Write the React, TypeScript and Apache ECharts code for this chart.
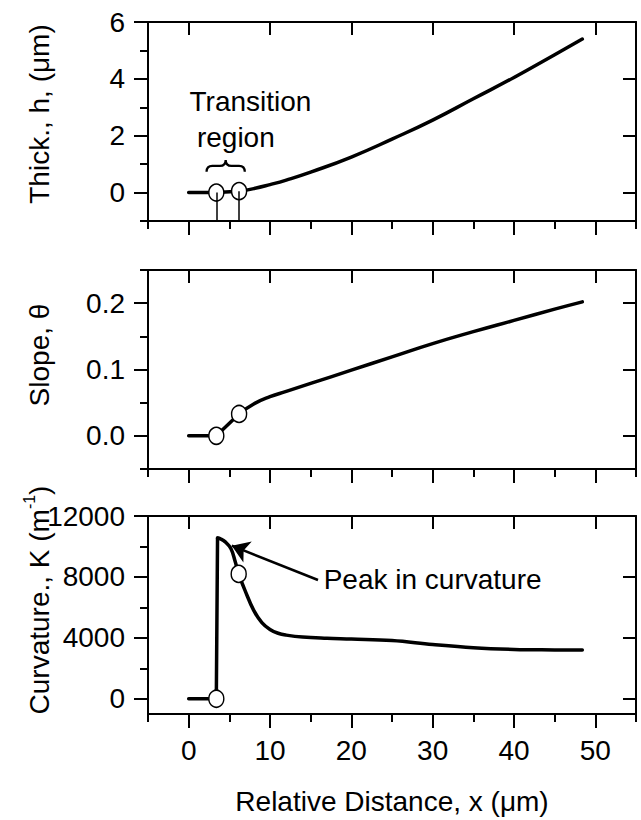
import React, { useEffect, useRef } from "react";
import * as echarts from "echarts";

// ---------- data ----------
const xMajorTicks = [0, 10, 20, 30, 40, 50];
const xMinorTicks = [-5, 5, 15, 25, 35, 45, 55];
const X_MIN = -5;
const X_MAX = 55;
const xAxisName = "Relative Distance, x (\u03bcm)";

// Panel 1: thickness (flat/transition part, then smooth growth)
const thickFlatX = [0, 3.4, 6.2];
const thickFlatH = [0, 0, 0.05];
const thickX = [6.2, 8, 10, 12, 15, 20, 25, 30, 35, 40, 45, 48.4];
const thickH = [0.05, 0.14, 0.28, 0.44, 0.72, 1.25, 1.88, 2.55, 3.3, 4.05, 4.85, 5.4];
const thickMarkX = [3.4, 6.2];
const thickMarkY = [0, 0.05];
const thickMajor = [0, 2, 4, 6];
const thickMinor = [-1, 1, 3, 5];

// Panel 2: slope
const slopeFlatX = [0, 3.4, 6.2];
const slopeFlatT = [0, 0, 0.033];
const slopeX = [6.2, 8, 10, 12, 15, 20, 25, 30, 35, 40, 45, 48.4];
const slopeT = [0.033, 0.048, 0.059, 0.067, 0.079, 0.099, 0.119, 0.139, 0.157, 0.174, 0.191, 0.202];
const slopeMarkX = [3.4, 6.2];
const slopeMarkY = [0, 0.033];
const slopeMajor = [0, 0.1, 0.2];
const slopeMinor = [-0.05, 0.05, 0.15, 0.25];

// Panel 3: curvature
const curvJumpX = [0, 3.4, 3.55];
const curvJumpK = [0, 0, 10550];
const curvX = [3.55, 3.9, 4.5, 5.2, 5.7, 6.15, 6.9, 8, 9, 10, 11, 12, 14, 17, 20, 25, 30, 35, 40, 45, 48.4];
const curvK = [10550, 10500, 10300, 9850, 9050, 8200, 7150, 5800, 5000, 4550, 4300, 4180, 4050, 3970, 3920, 3820, 3560, 3350, 3240, 3210, 3200];
const curvMarkX = [3.4, 6.15];
const curvMarkY = [0, 8200];
const curvMajor = [0, 4000, 8000, 12000];
const curvMinor = [2000, 6000, 10000];

// axis titles (rich text for the superscript)
const yNames = [
  "{a|Thick., h, (\u03bcm)}",
  "{a|Slope, \u03b8}",
  "{a|Curvature., K (m}{s|-1}{a|)}",
];

const annotTransition = "Transition";
const annotRegion = "region";
const annotPeak = "Peak in curvature";

// ---------- style ----------
const FONT = "'Liberation Sans', Arial, Helvetica, sans-serif";
const BLACK = "#000";
const FS_TICK = 28;
const FS = 28;
const LEFT = 148;
const WIDTH = 488;
const GRIDS = [
  { top: 22, height: 199 },
  { top: 270, height: 199 },
  { top: 516, height: 198 },
];
const NAME_X = 37;
const NAME_CY = [114, 355, 600];

const zip = (a: number[], b: number[]) => a.map((v, i) => [v, b[i]]);

function makeXAxes(g: number, showLabels: boolean) {
  const line = { color: BLACK, width: 2 };
  const common = { type: "value", gridIndex: g, min: X_MIN, max: X_MAX, splitLine: { show: false } };
  return [
    {
      ...common,
      position: "bottom",
      axisLine: { show: true, onZero: false, lineStyle: line },
      axisTick: { show: true, inside: false, length: 14, customValues: xMajorTicks, lineStyle: line },
      axisLabel: {
        show: showLabels,
        customValues: xMajorTicks,
        margin: 22,
        color: BLACK,
        fontSize: FS_TICK,
        fontFamily: FONT,
      },
      name: showLabels ? xAxisName : "",
      nameLocation: "middle",
      nameGap: 73,
      nameTextStyle: { color: BLACK, fontSize: FS, fontFamily: FONT },
    },
    {
      ...common,
      position: "bottom",
      axisLine: { show: false, onZero: false },
      axisTick: { show: true, inside: false, length: 8, customValues: xMinorTicks, lineStyle: line },
      axisLabel: { show: false },
    },
    {
      ...common,
      position: "top",
      axisLine: { show: true, onZero: false, lineStyle: line },
      axisTick: { show: true, inside: true, length: 13, customValues: xMajorTicks, lineStyle: line },
      axisLabel: { show: false },
    },
  ];
}

function makeYAxes(
  g: number,
  min: number,
  max: number,
  major: number[],
  minor: number[],
  fmt: (v: number) => string
) {
  const line = { color: BLACK, width: 2 };
  const common = { type: "value", gridIndex: g, min, max, splitLine: { show: false } };
  return [
    {
      ...common,
      position: "left",
      axisLine: { show: true, onZero: false, lineStyle: line },
      axisTick: { show: true, inside: false, length: 14, customValues: major, lineStyle: line },
      axisLabel: {
        show: true,
        customValues: major,
        margin: 23,
        color: BLACK,
        fontSize: FS_TICK,
        fontFamily: FONT,
        formatter: fmt,
      },
    },
    {
      ...common,
      position: "left",
      axisLine: { show: false, onZero: false },
      axisTick: { show: true, inside: false, length: 8, customValues: minor, lineStyle: line },
      axisLabel: { show: false },
    },
    {
      ...common,
      position: "right",
      axisLine: { show: true, onZero: false, lineStyle: line },
      axisTick: { show: true, inside: true, length: 13, customValues: major.filter((v) => v !== max), lineStyle: line },
      axisLabel: { show: false },
    },
  ];
}

function lineSeries(g: number, data: number[][], smooth: number | boolean, extra: any = {}) {
  return {
    type: "line",
    xAxisIndex: 3 * g,
    yAxisIndex: 3 * g,
    data,
    smooth,
    symbol: "none",
    lineStyle: { color: BLACK, width: 3.5, join: "round", cap: "round" },
    z: 2,
    silent: true,
    ...extra,
  };
}

function markerSeries(g: number, data: number[][]) {
  return {
    type: "scatter",
    xAxisIndex: 3 * g,
    yAxisIndex: 3 * g,
    data,
    symbol: "circle",
    symbolSize: [15, 17],
    itemStyle: { color: "#fff", borderColor: BLACK, borderWidth: 1.5, opacity: 1 },
    z: 4,
    silent: true,
  };
}

echarts.graphic.registerShape(
  "brace",
  echarts.graphic.extendPath("M0 12 Q0 6 6 6 L14 6 Q20 6 20 0 Q20 6 26 6 L34 6 Q40 6 40 12", {})
);

export default function App() {
  const ref = useRef<HTMLDivElement>(null);

  useEffect(() => {
    if (!ref.current) return;
    const chart = echarts.init(ref.current, undefined, { renderer: "svg" });

    const option: any = {
      animation: false,
      backgroundColor: "#fff",
      textStyle: { fontFamily: FONT },
      grid: GRIDS.map((gr) => ({ left: LEFT, width: WIDTH, top: gr.top, height: gr.height, containLabel: false })),
      xAxis: [...makeXAxes(0, false), ...makeXAxes(1, false), ...makeXAxes(2, true)],
      yAxis: [
        ...makeYAxes(0, -1, 6, thickMajor, thickMinor, (v) => String(v)),
        ...makeYAxes(1, -0.05, 0.25, slopeMajor, slopeMinor, (v) => v.toFixed(1)),
        ...makeYAxes(2, -1000, 12000, curvMajor, curvMinor, (v) => String(v)),
      ],
      series: [
        lineSeries(0, zip(thickFlatX, thickFlatH), false, {
          markLine: {
            silent: true,
            symbol: ["none", "none"],
            label: { show: false },
            lineStyle: { color: BLACK, width: 1.5, type: "solid" },
            data: thickMarkX.map((x, i) => [{ coord: [x, thickMarkY[i]] }, { coord: [x, -1] }]),
          },
        }),
        lineSeries(0, zip(thickX, thickH), 0.5),
        markerSeries(0, zip(thickMarkX, thickMarkY)),
        lineSeries(1, zip(slopeFlatX, slopeFlatT), false),
        lineSeries(1, zip(slopeX, slopeT), 0.5),
        markerSeries(1, zip(slopeMarkX, slopeMarkY)),
        lineSeries(2, zip(curvJumpX, curvJumpK), false),
        lineSeries(2, zip(curvX, curvK), 0.4, {
          markLine: {
            silent: true,
            symbol: ["none", "arrow"],
            symbolSize: 17,
            label: { show: false },
            lineStyle: { color: BLACK, width: 2.5, type: "solid" },
            data: [[{ coord: [15.9, 7800] }, { coord: [5.3, 10050] }]],
          },
        }),
        markerSeries(2, zip(curvMarkX, curvMarkY)),
      ],
    };
    chart.setOption(option);

    const px = (g: number, x: number, y: number) =>
      chart.convertToPixel({ xAxisIndex: 3 * g, yAxisIndex: 3 * g } as any, [x, y]) as number[];

    const bL = px(0, 2.2, 1.15);
    const bR = px(0, 6.9, 0.73);
    const tTrans = px(0, 7.6, 3.22);
    const tRegion = px(0, 5.8, 1.92);
    const tPeak = px(2, 16.6, 7800);
    const txt = (p: number[], text: string, align: string) => ({
      type: "text",
      x: p[0],
      y: p[1],
      silent: true,
      style: { text, fill: BLACK, fontSize: FS, fontFamily: FONT, align, verticalAlign: "middle" },
    });

    const names = yNames.map((t, i) => ({
      type: "text",
      x: NAME_X,
      y: NAME_CY[i],
      rotation: Math.PI / 2,
      silent: true,
      style: {
        text: t,
        align: "center",
        verticalAlign: "middle",
        fill: BLACK,
        fontFamily: FONT,
        fontSize: FS,
        rich: {
          a: { fontSize: FS, fontFamily: FONT, fill: BLACK, verticalAlign: "bottom", lineHeight: 32 },
          s: { fontSize: 16, fontFamily: FONT, fill: BLACK, verticalAlign: "top", lineHeight: 32 },
        },
      },
    }));

    chart.setOption({
      graphic: [
        {
          type: "brace",
          x: bL[0],
          y: bL[1],
          scaleX: (bR[0] - bL[0]) / 40,
          scaleY: (bR[1] - bL[1]) / 12,
          silent: true,
          style: { stroke: BLACK, fill: null, lineWidth: 2.4 },
        },
        txt(tTrans, annotTransition, "center"),
        txt(tRegion, annotRegion, "center"),
        txt(tPeak, annotPeak, "left"),
        ...names,
      ],
    });

    return () => chart.dispose();
  }, []);

  return (
    <div
      ref={ref}
      style={{ position: "absolute", left: 0, top: 0, width: 641, height: 820, background: "#fff" }}
    />
  );
}
